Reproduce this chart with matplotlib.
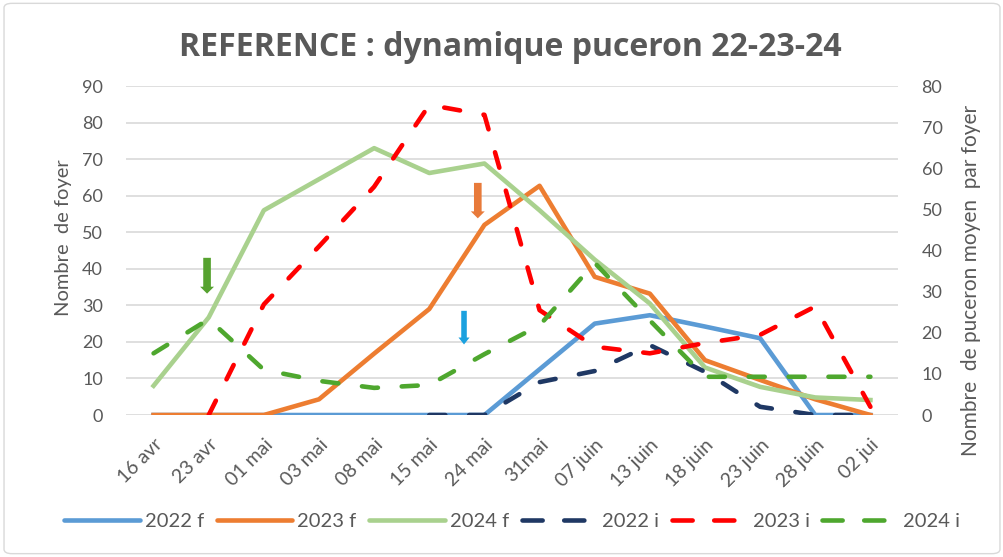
import numpy as np
import matplotlib
matplotlib.use("Agg")
import matplotlib.pyplot as plt
from matplotlib.patches import FancyBboxPatch
from matplotlib.lines import Line2D

# ---- data ----
categories = ['16 avr', '23 avr', '01 mai', '03 mai', '08 mai', '15 mai', '24 mai',
              '31mai', '07 juin', '13 juin', '18 juin', '23 juin', '28 juin', '02 jui']
nan = np.nan
f2022 = [0, 0, 0, 0, 0, 0, 0, 12.5, 25, 27.3, 24.2, 21, 0, 0]
f2023 = [0, 0, 0, 4.3, 16.8, 29, 52, 62.7, 37.8, 33.2, 15, 9.6, 4.3, 0]
f2024 = [8, 26.7, 56, 64.5, 73, 66.2, 68.8, 56, 42.5, 30.5, 13, 7.7, 4.8, 4.1]
i2022 = [nan, nan, nan, nan, nan, 0, 0, 8, 10.7, 17, 10.5, 2, 0, 0]
i2023 = [nan, 0, 26.9, 41, 55.5, 75.4, 73, 25.5, 16.6, 15, 17.5, 19.5, 26.4, 2]
i2024 = [15, 23.3, 11, 8.3, 6.6, 7.3, 14.8, 21.8, 37, 23, 9.3, 9.3, 9.3, 9.3]
series_labels = ['2022 f', '2023 f', '2024 f', '2022 i', '2023 i', '2024 i']
series_colors = ['#5B9BD5', '#ED7D31', '#A9D18E', '#1F3864', '#FF0000', '#4EA72E']

left_ticks = list(range(0, 91, 10))
right_ticks = list(range(0, 81, 10))

# annotation arrows: (x position in category units, y start, y end) on left axis
arrow_green = (1.47, 43, 33.2)
arrow_orange = (6.38, 63.5, 53.8)
arrow_blue = (6.13, 28.5, 19.3)

plt.rcParams['font.family'] = ['Lato', 'DejaVu Sans']
GREY = '#595959'
GRID = '#D9D9D9'

fig = plt.figure(figsize=(10.04, 5.57), dpi=100)
fig.patches.append(FancyBboxPatch((0.004, 0.006), 0.992, 0.988,
                                  boxstyle="round,pad=0,rounding_size=0.008",
                                  transform=fig.transFigure, fill=False, edgecolor=GRID, lw=1))
ax = fig.add_axes([0.1255, 0.2549, 0.7689, 0.5907])
ax2 = ax.twinx()

x = np.arange(len(categories)) + 0.5
lw = 3.3
dash = (3.5, 5.2)

ax.plot(x, f2022, color=series_colors[0], lw=lw, zorder=3)
ax.plot(x, f2023, color=series_colors[1], lw=lw, zorder=3)
ax.plot(x, f2024, color=series_colors[2], lw=lw, zorder=3)
for vals, col in zip([i2022, i2023, i2024], series_colors[3:]):
    ax2.plot(x, vals, color=col, lw=lw, dashes=dash, dash_capstyle='round', zorder=3)

ax.set_xlim(0, len(categories))
ax.set_ylim(0, 90)
ax2.set_ylim(0, 80)
ax.set_yticks(left_ticks)
ax2.set_yticks(right_ticks)
ax.set_xticks(x)
ax.set_xticklabels(categories, rotation=45, ha='right', va='top', rotation_mode='anchor')
ax.yaxis.grid(True, color=GRID, lw=1.2)
ax.set_axisbelow(True)
for a in (ax, ax2):
    for s in a.spines.values():
        s.set_visible(False)
    a.tick_params(length=0, colors=GREY, labelsize=13)
ax.tick_params(axis='y', pad=16.5)
ax2.tick_params(axis='y', pad=17)
ax.tick_params(axis='x', pad=15, labelsize=14)

ax.set_ylabel('Nombre  de foyer', color=GREY, fontsize=14.5)
ax.yaxis.set_label_coords(-0.070, 0.54)
ax2.set_ylabel('Nombre  de puceron moyen  par foyer', color=GREY, fontsize=15)
ax2.yaxis.set_label_coords(1.0816, 0.41)

fig.text(0.5085, 0.914, 'REFERENCE : dynamique puceron 22-23-24', ha='center', va='center',
         fontsize=23, fontweight='bold', color=GREY, family=['Open Sans', 'DejaVu Sans'])

# arrows
for (xa, y0, y1), col, tw, hw in [(arrow_green, '#56A22F', 0.55, 1.0),
                                   (arrow_orange, '#E87A3A', 0.55, 1.0),
                                   (arrow_blue, '#1BA1DF', 0.4, 0.8)]:
    ax.annotate('', xy=(xa, y1), xytext=(xa, y0),
                arrowprops=dict(arrowstyle=f'simple,head_length=0.5,head_width={hw},tail_width={tw}',
                                color=col, lw=0, shrinkA=0, shrinkB=0), zorder=5)

# legend handles (legend shows a longer dash pattern, as in the reference)
handles = []
for i, col in enumerate(series_colors):
    if i < 3:
        handles.append(Line2D([], [], color=col, lw=lw, solid_capstyle='round'))
    else:
        handles.append(Line2D([], [], color=col, lw=lw, dashes=(4.4, 4.7), dash_capstyle='round'))
leg = fig.legend(handles, series_labels, loc='center', bbox_to_anchor=(0.510, 0.063), ncol=6,
                 frameon=False, fontsize=14.5, handlelength=3.75, handletextpad=0.26,
                 columnspacing=0.62)
for t in leg.get_texts():
    t.set_color(GREY)

fig.savefig('out.png', dpi=100)
